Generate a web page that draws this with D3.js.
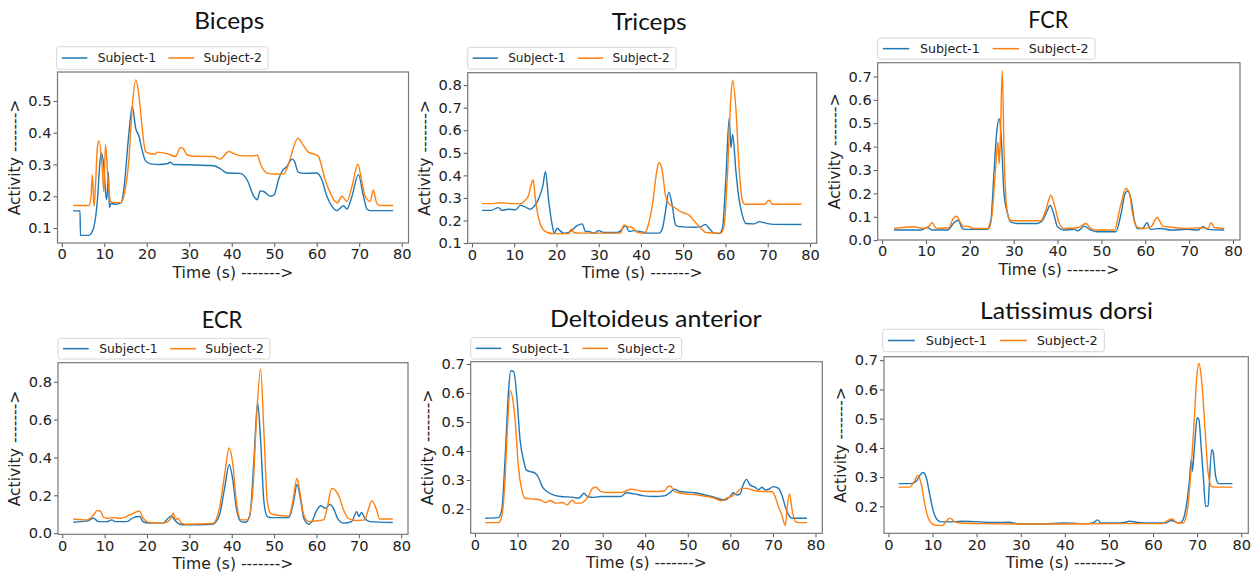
<!DOCTYPE html>
<html>
<head>
<meta charset="utf-8">
<script src="https://cdn.jsdelivr.net/npm/d3@7"></script>
<style>
  html, body { margin: 0; padding: 0; background: #fff; }
  svg { display: block; }
</style>
</head>
<body>
<div id="chart"></div>
<script>
// Muscle activity of two subjects over time, one panel per muscle.

const muscles = ["Biceps", "Triceps", "FCR", "ECR", "Deltoideus anterior", "Latissimus dorsi"];
const seriesNames = ["Subject-1", "Subject-2"];
const xTicks = [0, 10, 20, 30, 40, 50, 60, 70, 80];

// Y tick labels per panel
const bicepsYTicks = [0.1, 0.2, 0.3, 0.4, 0.5];
const tricepsYTicks = [0.1, 0.2, 0.3, 0.4, 0.5, 0.6, 0.7, 0.8];
const fcrYTicks = [0.0, 0.1, 0.2, 0.3, 0.4, 0.5, 0.6, 0.7];
const ecrYTicks = [0.0, 0.2, 0.4, 0.6, 0.8];
const deltYTicks = [0.2, 0.3, 0.4, 0.5, 0.6, 0.7];
const latYTicks = [0.2, 0.3, 0.4, 0.5, 0.6, 0.7];

// [time (s), activity]
const bicepsS1 = [[2.7,0.154],[4.3,0.154],[4.4,0.077],[6.4,0.077],[7.0,0.085],[7.6,0.105],[8.4,0.189],[9.0,0.31],[9.3,0.336],[9.9,0.294],[10.4,0.2],[10.6,0.19],[11.0,0.275],[11.2,0.165],[11.6,0.178],[12.5,0.175],[14.0,0.18],[14.6,0.22],[15.8,0.398],[16.6,0.482],[17.4,0.414],[18.2,0.388],[18.9,0.346],[19.7,0.312],[20.9,0.302],[23,0.300],[25.0,0.303],[25.6,0.307],[26.3,0.300],[30,0.299],[35.8,0.296],[37.5,0.285],[38.9,0.273],[42,0.272],[43.6,0.252],[45.2,0.2],[46.0,0.189],[46.7,0.217],[47.5,0.215],[49.1,0.2],[50.0,0.205],[51.0,0.252],[51.8,0.278],[53.0,0.294],[54.2,0.317],[54.7,0.312],[55.7,0.275],[57,0.272],[60.0,0.273],[61.2,0.252],[62.4,0.2],[63.6,0.168],[64.7,0.155],[66.3,0.17],[67.1,0.16],[68.3,0.2],[69.8,0.268],[71.0,0.2],[71.8,0.16],[72.6,0.155],[78,0.155]];
const bicepsS2 = [[2.7,0.171],[6.4,0.171],[6.9,0.2],[7.2,0.268],[7.6,0.168],[8.0,0.25],[8.4,0.357],[8.8,0.374],[9.6,0.273],[9.9,0.215],[10.3,0.362],[10.9,0.252],[11.5,0.184],[12.5,0.18],[13.9,0.18],[14.6,0.2],[15.8,0.315],[16.6,0.482],[17.4,0.566],[18.2,0.514],[18.9,0.419],[19.7,0.341],[20.9,0.334],[22,0.333],[22.5,0.339],[24.8,0.334],[26.8,0.325],[27.9,0.353],[28.6,0.35],[29.5,0.33],[31,0.326],[35.8,0.325],[37.3,0.317],[39.3,0.341],[40.5,0.334],[42,0.328],[45.2,0.327],[46.0,0.33],[46.7,0.304],[48.3,0.273],[50,0.27],[52.2,0.27],[53.8,0.32],[54.6,0.357],[55.6,0.383],[56.5,0.367],[58.1,0.338],[59.6,0.332],[60.4,0.325],[62.0,0.252],[63.2,0.21],[64.3,0.184],[64.9,0.179],[65.9,0.2],[67.1,0.184],[68.3,0.231],[69.7,0.301],[70.6,0.247],[71.4,0.2],[72.6,0.184],[73.3,0.22],[74.1,0.179],[74.9,0.171],[78,0.171]];

const tricepsS1 = [[2.4,0.245],[4.5,0.245],[6.3,0.257],[7.1,0.245],[8.7,0.25],[10.3,0.247],[11.5,0.268],[12.6,0.26],[13.8,0.25],[14.6,0.26],[15.8,0.297],[16.8,0.355],[17.4,0.416],[18.2,0.282],[19.0,0.18],[19.5,0.144],[20.2,0.166],[20.9,0.154],[21.7,0.144],[23.3,0.151],[24.9,0.177],[26.1,0.185],[26.9,0.151],[27.7,0.151],[28.9,0.144],[30.0,0.155],[31.2,0.147],[34.4,0.147],[35.2,0.154],[36.0,0.173],[36.4,0.176],[37.2,0.151],[38.3,0.155],[39.9,0.151],[41.5,0.144],[44.3,0.144],[45.1,0.166],[45.8,0.239],[46.6,0.326],[47.4,0.268],[48.2,0.18],[49.0,0.173],[52.6,0.17],[54.2,0.173],[55.3,0.183],[56.1,0.166],[57.3,0.144],[58.5,0.142],[59.3,0.166],[60.1,0.384],[60.9,0.654],[61.3,0.523],[61.7,0.581],[62.5,0.414],[63.2,0.297],[64.0,0.224],[64.8,0.187],[66.8,0.185],[68.0,0.195],[68.8,0.192],[70.0,0.186],[71.5,0.183],[78,0.182]];
const tricepsS2 = [[2.4,0.275],[5,0.275],[6.7,0.279],[9.1,0.275],[11.5,0.275],[12.6,0.29],[13.4,0.311],[14.2,0.37],[14.5,0.38],[15.0,0.297],[15.8,0.209],[16.6,0.166],[17.8,0.147],[19.4,0.142],[22.9,0.142],[23.5,0.163],[24.1,0.147],[25.7,0.144],[35.2,0.144],[36.0,0.18],[36.8,0.173],[37.9,0.169],[39.1,0.148],[40.7,0.144],[41.5,0.166],[42.7,0.268],[43.9,0.435],[44.3,0.457],[45.1,0.414],[45.8,0.311],[46.6,0.275],[47.8,0.26],[49.4,0.239],[50.6,0.231],[51.4,0.224],[52.6,0.198],[54.2,0.166],[55.3,0.147],[58.9,0.144],[59.7,0.18],[60.5,0.414],[61.3,0.749],[61.7,0.822],[62.5,0.69],[63.2,0.443],[64.0,0.29],[64.6,0.272],[69.2,0.272],[70.4,0.29],[71.1,0.272],[78,0.272]];

const fcrS1 = [[2.7,0.043],[8.8,0.043],[10.3,0.054],[11.4,0.043],[14.9,0.043],[16.4,0.074],[17.3,0.085],[18.3,0.05],[18.7,0.046],[24.0,0.046],[24.8,0.085],[25.5,0.285],[26.1,0.455],[26.7,0.519],[27.2,0.427],[27.8,0.199],[28.6,0.114],[29.3,0.078],[30.9,0.071],[35.4,0.071],[36.6,0.085],[37.7,0.128],[38.3,0.149],[39.1,0.114],[40.0,0.057],[41.5,0.043],[43.8,0.046],[44.6,0.04],[46.1,0.06],[47.6,0.043],[49.1,0.036],[53.3,0.036],[54.5,0.114],[55.4,0.199],[56.0,0.21],[56.8,0.171],[57.5,0.085],[58.3,0.05],[59.4,0.05],[60.4,0.074],[61.2,0.046],[63.6,0.05],[65.9,0.043],[69.7,0.046],[72.0,0.043],[73.1,0.057],[74.3,0.046],[78,0.043]];
const fcrS2 = [[2.7,0.05],[7.2,0.057],[9.5,0.05],[10.7,0.06],[11.4,0.074],[12.4,0.05],[15.2,0.053],[16.2,0.092],[17.0,0.102],[17.9,0.074],[18.7,0.057],[19.4,0.06],[21.0,0.05],[24.4,0.05],[25.1,0.114],[25.9,0.313],[26.4,0.42],[26.7,0.327],[26.9,0.398],[27.4,0.726],[27.8,0.384],[28.4,0.142],[29.0,0.088],[30.1,0.083],[36.2,0.083],[37.3,0.128],[38.5,0.192],[39.4,0.142],[40.4,0.071],[41.5,0.05],[44.6,0.053],[46.5,0.071],[47.6,0.05],[48.8,0.043],[53.0,0.043],[54.3,0.142],[55.6,0.221],[56.4,0.199],[57.1,0.114],[58.1,0.057],[59.4,0.05],[61.3,0.057],[62.7,0.097],[64.0,0.06],[65.1,0.057],[69.0,0.05],[72.8,0.053],[74.3,0.05],[75.0,0.074],[75.8,0.054],[78,0.05]];

const ecrS1 = [[2.6,0.058],[5.9,0.065],[7.4,0.079],[8.6,0.061],[10.5,0.061],[11.7,0.07],[12.5,0.061],[15.2,0.061],[16.8,0.082],[18.3,0.088],[19.1,0.061],[20.3,0.053],[23.8,0.053],[25.0,0.079],[25.8,0.091],[26.5,0.07],[27.7,0.047],[29.3,0.044],[35.5,0.047],[37.1,0.096],[38.3,0.236],[39.4,0.362],[40.2,0.289],[41.1,0.131],[42.2,0.061],[43.3,0.058],[44.3,0.096],[45.3,0.411],[46.1,0.691],[46.8,0.499],[47.6,0.166],[48.4,0.088],[49.6,0.082],[53.5,0.082],[54.6,0.166],[55.4,0.257],[56.2,0.184],[57.0,0.079],[58.2,0.047],[58.9,0.061],[60.1,0.123],[61.1,0.145],[62.1,0.131],[63.2,0.152],[64.0,0.131],[65.2,0.07],[66.4,0.053],[68.3,0.061],[69.5,0.114],[70.0,0.088],[70.6,0.11],[71.4,0.079],[72.6,0.061],[78,0.056]];
const ecrS2 = [[2.6,0.075],[5.9,0.07],[7.4,0.096],[8.2,0.119],[9.0,0.117],[9.8,0.082],[10.9,0.079],[12.1,0.082],[13.7,0.079],[15.2,0.088],[16.8,0.105],[18.2,0.117],[19.1,0.079],[20.3,0.058],[23.8,0.053],[25.4,0.07],[26.2,0.105],[26.8,0.07],[27.3,0.079],[28.1,0.053],[29.3,0.047],[35.5,0.051],[37.1,0.131],[38.3,0.306],[39.4,0.45],[40.2,0.376],[41.1,0.166],[42.2,0.07],[43.7,0.07],[44.9,0.201],[45.8,0.586],[46.8,0.867],[47.6,0.534],[48.4,0.166],[49.2,0.105],[50.4,0.096],[53.5,0.091],[54.4,0.166],[55.4,0.289],[56.2,0.201],[57.0,0.096],[58.2,0.061],[60.5,0.067],[61.7,0.07],[62.5,0.131],[63.6,0.236],[64.4,0.228],[65.2,0.201],[66.4,0.123],[67.5,0.079],[69.1,0.067],[71.4,0.07],[72.2,0.123],[73.1,0.172],[74.2,0.123],[74.9,0.075],[78,0.075]];

const deltS1 = [[2.4,0.168],[5.5,0.17],[6.3,0.197],[7.1,0.38],[7.9,0.61],[8.4,0.677],[9.1,0.674],[9.9,0.576],[10.6,0.438],[11.4,0.369],[12.1,0.334],[13.0,0.329],[14.2,0.323],[15.0,0.306],[15.8,0.277],[16.9,0.26],[18.5,0.248],[20.1,0.243],[23.2,0.24],[24.4,0.237],[25.6,0.254],[26.4,0.243],[28.0,0.24],[29.6,0.243],[34.3,0.243],[35.5,0.256],[37.4,0.252],[39.8,0.245],[42.2,0.243],[44.5,0.245],[46.1,0.26],[46.9,0.268],[48.1,0.26],[51.6,0.256],[55.6,0.243],[58.7,0.231],[59.9,0.243],[60.7,0.256],[61.5,0.248],[62.3,0.252],[63.0,0.283],[63.8,0.302],[64.6,0.283],[65.8,0.275],[66.6,0.266],[67.4,0.275],[68.2,0.266],[69.0,0.268],[70.1,0.277],[71.3,0.271],[72.1,0.248],[72.9,0.208],[73.7,0.179],[74.5,0.168],[78,0.168]];
const deltS2 = [[2.4,0.153],[5.5,0.153],[6.3,0.174],[7.1,0.311],[7.6,0.472],[8.3,0.608],[8.9,0.576],[9.5,0.495],[10.2,0.346],[11.0,0.266],[11.8,0.237],[13.8,0.234],[15.4,0.231],[16.5,0.222],[17.7,0.229],[18.9,0.22],[20.5,0.222],[21.7,0.214],[22.9,0.231],[23.6,0.22],[24.8,0.22],[26.0,0.231],[26.8,0.248],[27.6,0.271],[28.4,0.275],[29.6,0.26],[31.1,0.257],[34.3,0.257],[36.6,0.268],[39.0,0.262],[41.4,0.26],[44.5,0.262],[45.3,0.277],[45.9,0.279],[46.9,0.26],[48.5,0.254],[52.4,0.248],[56.3,0.237],[57.9,0.228],[59.1,0.237],[60.3,0.243],[61.5,0.256],[62.6,0.271],[63.8,0.271],[65.0,0.266],[67.4,0.26],[69.7,0.26],[70.5,0.243],[71.3,0.208],[72.1,0.179],[72.9,0.143],[73.3,0.197],[73.9,0.252],[74.5,0.197],[75.3,0.156],[76.1,0.153],[78,0.153]];

const latS1 = [[2.3,0.278],[5.1,0.278],[6.3,0.286],[7.0,0.303],[7.8,0.316],[8.5,0.303],[9.3,0.246],[10.0,0.194],[10.8,0.16],[11.9,0.147],[13.8,0.147],[16.8,0.149],[24.4,0.145],[27.4,0.146],[29.7,0.14],[35.7,0.14],[39.5,0.143],[45.5,0.141],[46.6,0.145],[47.4,0.154],[48.2,0.143],[51.5,0.143],[53.8,0.146],[54.6,0.149],[56.1,0.146],[59.1,0.143],[62.9,0.143],[64.0,0.152],[64.8,0.149],[65.9,0.143],[66.6,0.149],[67.4,0.189],[68.2,0.28],[68.7,0.362],[68.9,0.32],[69.4,0.405],[70.0,0.503],[70.4,0.497],[70.9,0.405],[71.5,0.28],[71.9,0.2],[72.5,0.202],[72.7,0.257],[73.3,0.394],[73.6,0.388],[74.2,0.303],[74.9,0.278],[78,0.278]];
const latS2 = [[2.3,0.266],[4.8,0.266],[5.9,0.286],[6.6,0.306],[7.4,0.28],[8.2,0.211],[8.9,0.166],[9.7,0.143],[10.8,0.135],[12.3,0.135],[13.1,0.149],[14.0,0.16],[14.9,0.149],[16.5,0.143],[20.6,0.141],[28.2,0.14],[39.5,0.14],[50.8,0.141],[62.1,0.141],[63.6,0.154],[64.4,0.157],[65.5,0.143],[66.8,0.143],[67.8,0.189],[68.5,0.303],[69.3,0.485],[70.0,0.657],[70.4,0.689],[71.0,0.634],[71.8,0.463],[72.5,0.314],[73.3,0.268],[74.2,0.266],[78,0.266]];

// Layout of each panel: plot frame [x0, y0, x1, y1], y range, title and legend placement
const panels = [
  { title: muscles[0], s1: bicepsS1, s2: bicepsS2, yTicks: bicepsYTicks, yDomain: [0.053, 0.591],
    frame: [57.5, 72, 408.5, 243], titleX: 229.3, titleY: 29.3, titleW: 70, legend: [56.7, 46.7, 268, 69.3] },
  { title: muscles[1], s1: tricepsS1, s2: tricepsS2, yTicks: tricepsYTicks, yDomain: [0.099, 0.855],
    frame: [467.7, 72.7, 816.7, 243.3], titleX: 649.2, titleY: 30, titleW: 75, legend: [467.7, 47.3, 676, 69] },
  { title: muscles[2], s1: fcrS1, s2: fcrS2, yTicks: fcrYTicks, yDomain: [0.0005, 0.759],
    frame: [877.7, 62.7, 1240, 240], titleX: 1048.3, titleY: 27.7, titleW: 40, legend: [877.7, 38, 1095, 59.3] },
  { title: muscles[3], s1: ecrS1, s2: ecrS2, yTicks: ecrYTicks, yDomain: [-0.006, 0.901],
    frame: [58, 362.7, 408, 534.3], titleX: 222, titleY: 328.3, titleW: 40.6, legend: [58, 338.3, 270, 359] },
  { title: muscles[4], s1: deltS1, s2: deltS2, yTicks: deltYTicks, yDomain: [0.116, 0.708],
    frame: [470.7, 361.7, 822.3, 533.3], titleX: 655.8, titleY: 326.7, titleW: 211.7, legend: [470.7, 337.7, 681.7, 359] },
  { title: muscles[5], s1: latS1, s2: latS2, yTicks: latYTicks, yDomain: [0.108, 0.712],
    frame: [884, 356.7, 1248.3, 533.3], titleX: 1066.5, titleY: 319.3, titleW: 173, legend: [882.7, 329.3, 1104.3, 351.7] }
];

const colors = ["#1f77b4", "#ff7f0e"];
const tickFont = "DejaVu Sans, Verdana, sans-serif";
const titleFont = "Lato, 'Open Sans', sans-serif";

const svg = d3.select("#chart").append("svg")
  .attr("width", 1260).attr("height", 576)
  .attr("viewBox", "0 0 1260 576");

panels.forEach((p, i) => {
  const [fx0, fy0, fx1, fy1] = p.frame;
  const x = d3.scaleLinear().domain([-1.0, 81.6]).range([fx0, fx1]);
  const y = d3.scaleLinear().domain(p.yDomain).range([fy1, fy0]);
  const g = svg.append("g");

  const clipId = "clip-" + i;
  g.append("clipPath").attr("id", clipId)
    .append("rect").attr("x", fx0).attr("y", fy0).attr("width", fx1 - fx0).attr("height", fy1 - fy0);

  // Axes
  const xAxis = g.append("g").attr("transform", `translate(0,${fy1})`)
    .call(d3.axisBottom(x).tickValues(xTicks).tickSize(4).tickPadding(2).tickFormat(d3.format("d")));
  const yAxis = g.append("g").attr("transform", `translate(${fx0},0)`)
    .call(d3.axisLeft(y).tickValues(p.yTicks).tickSize(4).tickPadding(2).tickFormat(d3.format(".1f")));
  [xAxis, yAxis].forEach(a => {
    a.select(".domain").remove();
    a.selectAll(".tick line").attr("stroke", "#555").attr("stroke-width", 1);
    a.selectAll(".tick text").attr("fill", "#222").style("font-family", tickFont).style("font-size", "14.6px");
  });

  // Series lines
  const line = d3.line().x(d => x(d[0])).y(d => y(d[1])).curve(d3.curveMonotoneX);
  [p.s1, p.s2].forEach((s, k) => {
    g.append("path").datum(s)
      .attr("clip-path", `url(#${clipId})`)
      .attr("fill", "none").attr("stroke", colors[k]).attr("stroke-width", 1.4)
      .attr("stroke-linejoin", "round")
      .attr("d", line);
  });

  // Plot frame
  g.append("rect").attr("x", fx0).attr("y", fy0).attr("width", fx1 - fx0).attr("height", fy1 - fy0)
    .attr("fill", "none").attr("stroke", "#777").attr("stroke-width", 1.2);

  // Axis labels
  g.append("text").attr("x", (fx0 + fx1) / 2).attr("y", fy1 + 34.5)
    .attr("text-anchor", "middle").attr("fill", "#222")
    .style("font-family", tickFont).style("font-size", "15.6px")
    .text("Time (s) ------->");
  g.append("text")
    .attr("transform", `translate(${fx0 - 43},${(fy0 + fy1) / 2}) rotate(-90)`)
    .attr("text-anchor", "middle").attr("dy", "0.35em").attr("fill", "#222")
    .style("font-family", tickFont).style("font-size", "15.6px")
    .text("Activity ------->");

  // Title
  g.append("text").attr("x", p.titleX).attr("y", p.titleY)
    .attr("text-anchor", "middle").attr("fill", "#111")
    .attr("textLength", p.titleW).attr("lengthAdjust", "spacingAndGlyphs")
    .style("font-family", titleFont).style("font-size", "23px").style("font-weight", 400)
    .text(p.title);

  // Legend above the plot
  const [lx0, ly0, lx1, ly1] = p.legend;
  const k = (lx1 - lx0) / 211;
  const lg = g.append("g");
  lg.append("rect").attr("x", lx0).attr("y", ly0).attr("width", lx1 - lx0).attr("height", ly1 - ly0)
    .attr("rx", 2.5).attr("fill", "#fff").attr("stroke", "#d6d6d6").attr("stroke-width", 1);
  const cy = (ly0 + ly1) / 2;
  const entries = [
    { x0: 5, x1: 30.6, tx: 41 },
    { x0: 111.6, x1: 137.3, tx: 146.6 }
  ];
  entries.forEach((e, j) => {
    lg.append("line").attr("x1", lx0 + e.x0 * k).attr("x2", lx0 + e.x1 * k)
      .attr("y1", cy).attr("y2", cy)
      .attr("stroke", colors[j]).attr("stroke-width", 1.5);
    lg.append("text").attr("x", lx0 + e.tx * k).attr("y", cy).attr("dy", "0.35em")
      .attr("fill", "#222").style("font-family", tickFont).style("font-size", (12.3 * k).toFixed(2) + "px")
      .text(seriesNames[j]);
  });
});
</script>
</body>
</html>
